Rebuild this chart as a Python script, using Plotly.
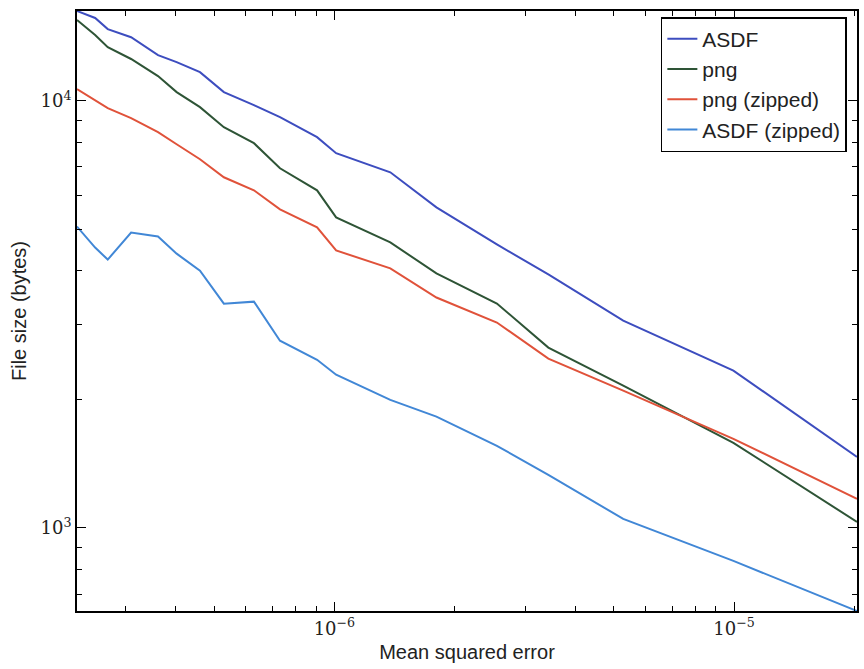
import math
import plotly.graph_objects as go

# Mean squared error (shared x for all series)
mse = [2.27e-7, 2.52e-7, 2.71e-7, 3.10e-7, 3.62e-7, 4.03e-7, 4.61e-7, 5.29e-7,
       6.29e-7, 7.31e-7, 9.05e-7, 1.01e-6, 1.38e-6, 1.80e-6, 2.55e-6, 3.43e-6,
       5.28e-6, 9.96e-6, 2.03e-5]

asdf = [16230, 15630, 14720, 14090, 12790, 12320, 11670, 10480, 9770, 9157,
        8220, 7540, 6803, 5630, 4611, 3922, 3059, 2335, 1467]
png = [15460, 14260, 13360, 12530, 11430, 10480, 9665, 8676, 7958, 6953,
       6173, 5336, 4662, 3944, 3353, 2644, 2154, 1582, 1033]
png_zipped = [10650, 10040, 9613, 9108, 8444, 7913, 7300, 6622, 6173, 5572,
              5054, 4464, 4052, 3463, 3026, 2491, 2096, 1617, 1170]
asdf_zipped = [5077, 4533, 4249, 4916, 4811, 4388, 4004, 3351, 3387, 2744,
               2476, 2284, 1995, 1822, 1557, 1331, 1050, 837, 639]

series = [
    ("ASDF", asdf, "#3d4dbf"),
    ("png", png, "#2e5436"),
    ("png (zipped)", png_zipped, "#e0523a"),
    ("ASDF (zipped)", asdf_zipped, "#4187d6"),
]

x_major = [1e-6, 1e-5]
x_major_text = ["10<sup>\u22126</sup>", "10<sup>\u22125</sup>"]
y_major = [1e3, 1e4]
y_major_text = ["10<sup>3</sup>", "10<sup>4</sup>"]

x_minor = [m * 10.0 ** e for e in (-7, -6, -5) for m in range(2, 10)]
y_minor = [m * 10.0 ** e for e in (2, 3, 4) for m in range(2, 10)]

fig = go.Figure()
for name, vals, col in series:
    fig.add_trace(go.Scatter(x=mse, y=vals, mode="lines", name=name,
                             line=dict(color=col, width=2)))

xmin, xmax = min(mse), max(mse)
allv = asdf + png + png_zipped + asdf_zipped
ymin, ymax = min(allv), max(allv)

axis_common = dict(
    showgrid=False, zeroline=False, showline=True, linecolor="black",
    linewidth=2, mirror="allticks", ticks="inside", ticklen=9, tickwidth=1.2,
    tickcolor="black", automargin=False,
    tickfont=dict(family="DejaVu Serif", size=18, color="#222"),
)

fig.update_xaxes(
    type="log", range=[math.log10(xmin), math.log10(xmax)],
    tickvals=x_major, ticktext=x_major_text,
    minor=dict(tickvals=x_minor, ticks="inside", ticklen=5, tickwidth=1,
               tickcolor="black", showgrid=False),
    title=dict(text="Mean squared error",
               font=dict(family="Liberation Sans", size=20, color="#222"),
               standoff=7),
    **axis_common,
)
fig.update_yaxes(
    type="log", range=[math.log10(ymin), math.log10(ymax)],
    tickvals=y_major, ticktext=y_major_text,
    minor=dict(tickvals=y_minor, ticks="inside", ticklen=5, tickwidth=1,
               tickcolor="black", showgrid=False),
    title=dict(text="File size (bytes)",
               font=dict(family="Liberation Sans", size=20, color="#222"),
               standoff=8),
    **axis_common,
)

fig.update_layout(
    width=864, height=669,
    margin=dict(l=77, r=7, t=11, b=58),
    plot_bgcolor="white", paper_bgcolor="white",
    legend=dict(x=0.987, y=0.99, xanchor="right", yanchor="top",
                bgcolor="white", bordercolor="black", borderwidth=1.5,
                font=dict(family="Liberation Sans", size=21, color="#222"),
                tracegroupgap=0, itemwidth=30),
    showlegend=True,
)

fig.write_html("out.html",
               config={"displayModeBar": False},
               post_script="document.body.style.margin='0';document.body.style.overflow='hidden';")
